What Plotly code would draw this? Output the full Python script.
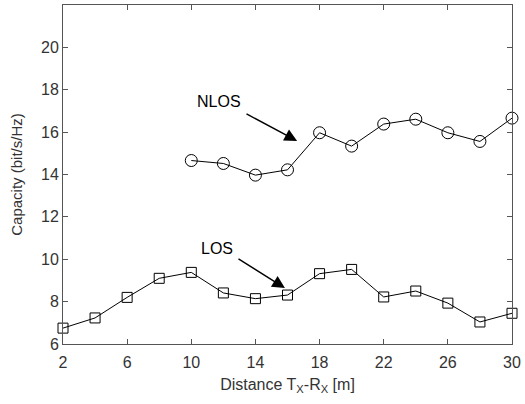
import plotly.graph_objects as go

x_nlos = [10, 12, 14, 16, 18, 20, 22, 24, 26, 28, 30]
c_nlos = [14.66, 14.52, 13.97, 14.22, 15.97, 15.34, 16.38, 16.61, 15.97, 15.56, 16.66]
x_los = [2, 4, 6, 8, 10, 12, 14, 16, 18, 20, 22, 24, 26, 28, 30]
c_los = [6.75, 7.23, 8.2, 9.1, 9.38, 8.41, 8.14, 8.31, 9.32, 9.52, 8.22, 8.5, 7.93, 7.04, 7.45]
x_ticks = [2, 6, 10, 14, 18, 22, 26, 30]
y_ticks = [6, 8, 10, 12, 14, 16, 18, 20]

FONT = "Liberation Sans, Arial"
fig = go.Figure()
fig.add_trace(go.Scatter(x=x_nlos, y=c_nlos, mode="lines+markers",
                         line=dict(color="black", width=1),
                         marker=dict(symbol="circle-open", size=12, color="black", line=dict(width=1)),
                         cliponaxis=False, showlegend=False))
fig.add_trace(go.Scatter(x=x_los, y=c_los, mode="lines+markers",
                         line=dict(color="black", width=1),
                         marker=dict(symbol="square-open", size=10, color="black", line=dict(width=1)),
                         cliponaxis=False, showlegend=False))

fig.add_annotation(x=16.6, y=15.58, ax=13.35, ay=16.9, xref="x", yref="y", axref="x", ayref="y",
                   showarrow=True, arrowhead=2, arrowsize=1.8, arrowwidth=1.4, arrowcolor="black", text="")
fig.add_annotation(x=11.7, y=17.46, text="NLOS", showarrow=False,
                   font=dict(family=FONT, size=16, color="black"))
fig.add_annotation(x=15.84, y=8.64, ax=12.85, ay=10.06, xref="x", yref="y", axref="x", ayref="y",
                   showarrow=True, arrowhead=2, arrowsize=1.8, arrowwidth=1.4, arrowcolor="black", text="")
fig.add_annotation(x=11.6, y=10.53, text="LOS", showarrow=False,
                   font=dict(family=FONT, size=16, color="black"))

axis_common = dict(showgrid=False, zeroline=False, showline=True, linecolor="#555555", linewidth=1,
                   mirror="ticks", ticks="inside", ticklen=5, tickcolor="#555555", automargin=False,
                   tickfont=dict(family=FONT, size=16, color="#333333"))
fig.update_xaxes(range=[2, 30], tickvals=x_ticks, ticklabelstandoff=4,
                 title=dict(text="Distance T<sub>X</sub>-R<sub>X</sub> [m]", standoff=8,
                            font=dict(family=FONT, size=16, color="#333333")),
                 **axis_common)
fig.update_yaxes(range=[6, 22], tickvals=y_ticks,
                 title=dict(text="Capacity (bit/s/Hz)", standoff=14,
                            font=dict(family=FONT, size=15, color="#333333")),
                 **axis_common)
fig.update_layout(width=525, height=404, margin=dict(l=63, r=13, t=5, b=60),
                  plot_bgcolor="white", paper_bgcolor="white")
fig.write_html("out.html", config={"displayModeBar": False},
               post_script="document.body.style.margin='0';")
